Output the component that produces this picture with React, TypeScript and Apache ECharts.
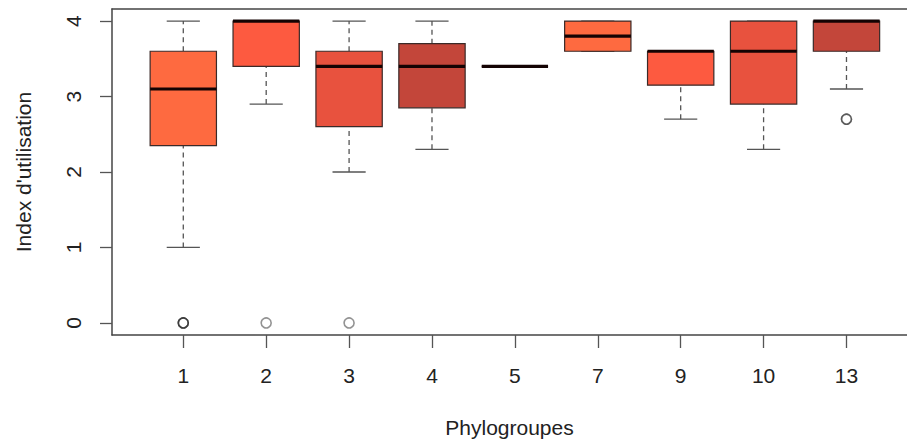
import React, { useEffect, useRef } from "react";
import * as echarts from "echarts";

const categories = ["1", "2", "3", "4", "5", "7", "9", "10", "13"];
const whiskerLow = [1.0, 2.9, 2.0, 2.3, 3.4, 3.6, 2.7, 2.3, 3.1];
const q1 = [2.35, 3.4, 2.6, 2.85, 3.4, 3.6, 3.15, 2.9, 3.6];
const median = [3.1, 4.0, 3.4, 3.4, 3.4, 3.8, 3.6, 3.6, 4.0];
const q3 = [3.6, 4.0, 3.6, 3.7, 3.4, 4.0, 3.6, 4.0, 4.0];
const whiskerHigh = [4.0, 4.0, 4.0, 4.0, 3.4, 4.0, 3.6, 4.0, 4.0];
const outliers: number[][] = [[0, 0, 0], [0], [0], [], [], [], [], [], [2.7, 2.7]];
const palette = ["#FE6A40", "#FD5A40", "#E8523E", "#C3463A", "#E04E3C"];
const yTicks = [0, 1, 2, 3, 4];

const FONT = "Liberation Sans, Arial, Helvetica, sans-serif";

export default function App() {
  const ref = useRef<HTMLDivElement>(null);
  useEffect(() => {
    if (!ref.current) return;
    const chart = echarts.init(ref.current, null, { renderer: "svg" });
    const boxData = categories.map((_, i) => [
      i + 1,
      whiskerLow[i],
      q1[i],
      median[i],
      q3[i],
      whiskerHigh[i],
      i % palette.length,
    ]);
    const outlierData: number[][] = [];
    outliers.forEach((arr, i) => arr.forEach((v) => outlierData.push([i + 1, v])));
    const xPositions = categories.map((_, i) => i + 1);

    const renderItem = (params: any, api: any) => {
      const x = api.value(0);
      const lo = api.coord([x, api.value(1)]);
      const b1 = api.coord([x, api.value(2)]);
      const md = api.coord([x, api.value(3)]);
      const b3 = api.coord([x, api.value(4)]);
      const hi = api.coord([x, api.value(5)]);
      const w = api.size([0.8, 0])[0];
      const cx = lo[0];
      const color = palette[api.value(6)];
      const dash = { stroke: "#555", lineWidth: 1.3, lineDash: [5, 4] };
      const cap = { stroke: "#555", lineWidth: 1.3 };
      return {
        type: "group",
        children: [
          { type: "line", shape: { x1: cx, y1: lo[1], x2: cx, y2: b1[1] }, style: dash },
          { type: "line", shape: { x1: cx, y1: b3[1], x2: cx, y2: hi[1] }, style: dash },
          { type: "line", shape: { x1: cx - w / 4, y1: lo[1], x2: cx + w / 4, y2: lo[1] }, style: cap },
          { type: "line", shape: { x1: cx - w / 4, y1: hi[1], x2: cx + w / 4, y2: hi[1] }, style: cap },
          {
            type: "rect",
            shape: { x: cx - w / 2, y: b3[1], width: w, height: b1[1] - b3[1] },
            style: { fill: color, stroke: "#3a2a28", lineWidth: 1.2 },
          },
          {
            type: "line",
            shape: { x1: cx - w / 2, y1: md[1], x2: cx + w / 2, y2: md[1] },
            style: { stroke: "#140303", lineWidth: 3.2 },
          },
        ],
      };
    };

    const xCommon = {
      type: "value",
      min: 0.14,
      max: 9.73,
      splitLine: { show: false },
    };

    chart.setOption({
      animation: false,
      backgroundColor: "#ffffff",
      textStyle: { fontFamily: FONT },
      grid: {
        left: 112,
        top: 9,
        width: 796,
        height: 327,
        show: false,
      },
      xAxis: [
        {
          ...xCommon,
          position: "bottom",
          name: "Phylogroupes",
          nameLocation: "middle",
          nameGap: 82,
          nameTextStyle: { fontSize: 21, color: "#222", fontFamily: FONT },
          axisLine: { show: true, onZero: false, lineStyle: { color: "#444", width: 1.5 } },
          axisTick: {
            show: true,
            customValues: xPositions,
            length: 13,
            lineStyle: { color: "#555", width: 1.3 },
          },
          axisLabel: {
            show: true,
            customValues: xPositions,
            margin: 30,
            fontSize: 21,
            color: "#222",
            fontFamily: FONT,
            formatter: (v: number) => categories[Math.round(v) - 1] ?? "",
          },
        },
        {
          ...xCommon,
          position: "top",
          axisLine: { show: true, onZero: false, lineStyle: { color: "#444", width: 1.5 } },
          axisTick: { show: false },
          axisLabel: { show: false },
        },
      ],
      yAxis: {
        type: "value",
        min: -0.16,
        max: 4.16,
        name: "Index d'utilisation",
        nameLocation: "middle",
        nameRotate: 90,
        nameGap: 78,
        nameTextStyle: { fontSize: 21, color: "#222", fontFamily: FONT },
        axisLine: { show: true, onZero: false, lineStyle: { color: "#444", width: 1.5 } },
        axisTick: {
          show: true,
          customValues: yTicks,
          length: 12,
          lineStyle: { color: "#555", width: 1.3 },
        },
        axisLabel: {
          show: true,
          customValues: yTicks,
          rotate: 90,
          margin: 28,
          fontSize: 21,
          color: "#222",
          fontFamily: FONT,
        },
        splitLine: { show: false },
      },
      series: [
        {
          type: "custom",
          renderItem,
          data: boxData,
          encode: { x: 0, y: [1, 2, 3, 4, 5] },
          clip: false,
          z: 2,
        },
        {
          type: "scatter",
          data: outlierData,
          symbol: "circle",
          symbolSize: 10,
          itemStyle: { color: "rgba(0,0,0,0)", borderColor: "rgba(30,30,30,0.6)", borderWidth: 1.6 },
          z: 3,
        },
      ],
    });
    return () => chart.dispose();
  }, []);
  return (
    <div
      ref={ref}
      style={{ position: "fixed", left: 0, top: 0, width: 907, height: 443 }}
    />
  );
}
